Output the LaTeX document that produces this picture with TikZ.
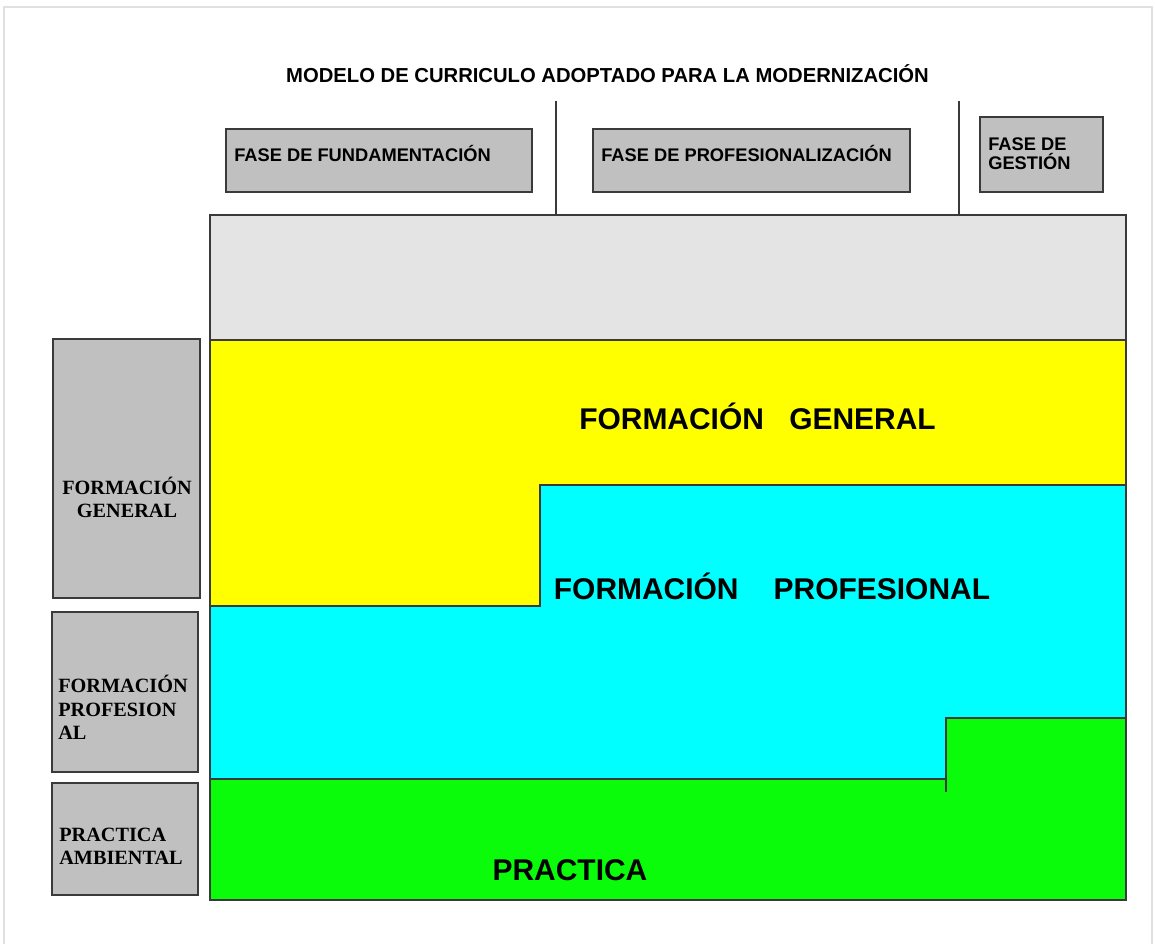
\documentclass[tikz,border=0pt]{standalone}
\usepackage{fontspec}
\setmainfont{Liberation Serif}
\newfontfamily\arialfont{Liberation Sans}
\usepackage{tikz}
\definecolor{amarillo}{RGB}{255,255,0}
\definecolor{celeste}{RGB}{0,255,255}
\definecolor{verde}{RGB}{10,252,10}
\definecolor{fondogris}{RGB}{228,228,228}
\definecolor{cajagris}{RGB}{192,192,192}
\definecolor{borde}{RGB}{58,58,58}
\newlength{\unitx}
\makeatletter
\newcommand\GetUnit{%
  \pgfpointxy{1}{0}
  \global\unitx=\pgf@x\relax
}
\makeatother

\begin{document}
\begin{tikzpicture}
    [
      x=0.025cm,
      y=0.025cm,
      fase/.style={rectangle,draw=borde,line width=1.3pt,fill=cajagris,inner sep=0pt},
      ftxt/.style={inner sep=0pt,font=\arialfont\bfseries\fontsize{13}{14.2}\selectfont,align=left},
      etxt/.style={inner sep=0pt,font=\bfseries\fontsize{14.4}{17}\selectfont},
      zona/.style={draw=borde,line width=1.3pt},
      rot/.style={inner sep=0pt,font=\arialfont\bfseries\fontsize{21.3}{25}\selectfont},
    ]\GetUnit
    \useasboundingbox (0,0) rectangle (1155,944);
    % page edge
    \draw[black!12, line width=2pt] (4,0) -- (4,937) -- (1152,937) -- (1152,0);

    \node at (607.5,861) [ftxt, anchor=base, font=\arialfont\bfseries\fontsize{14.4}{17}\selectfont] (titulo)
      {MODELO DE CURRICULO ADOPTADO PARA LA MODERNIZACIÓN};

    % phases
    \node at (379,783.5)   [fase, minimum width=306\unitx, minimum height=63\unitx] (f1) {};
    \node at (751.5,783.5) [fase, minimum width=317\unitx, minimum height=63\unitx] (f2) {};
    \node at (1041.5,789.5) [fase, minimum width=123\unitx, minimum height=75\unitx] (f3) {};
    \node at (234,782) [ftxt, anchor=base west] (tf1) {FASE DE FUNDAMENTACIÓN};
    \node at (601,782) [ftxt, anchor=base west] (tf2) {FASE DE PROFESIONALIZACIÓN};
    \node at (988,807) [ftxt, anchor=north west] (tf3) {FASE DE\\GESTIÓN};

    % left axis (base = last line)
    \node at (126.5,475.5) [fase, minimum width=147\unitx, minimum height=259\unitx] (e1) {};
    \node at (125,252)     [fase, minimum width=146\unitx, minimum height=160\unitx] (e2) {};
    \node at (125,105)     [fase, minimum width=146\unitx, minimum height=112\unitx] (e3) {};
    \node at (127,426) [etxt, anchor=base, align=center] (te1) {FORMACIÓN\\GENERAL};
    \node at (58,204)  [etxt, anchor=base west, align=left] (te2) {FORMACIÓN\\PROFESION\\AL};
    \node at (59,79)   [etxt, anchor=base west, align=left] (te3) {PRACTICA\\AMBIENTAL};

    % main frame
    \node at (668,386.5) [minimum width=916\unitx, minimum height=685\unitx, inner sep=0pt] (marco) {};
    \filldraw[zona, fill=fondogris] (210,729) rectangle (1126,604);
    \filldraw[zona, fill=amarillo] (210,604) -- (1126,604) -- (1126,459) -- (540,459)
      -- (540,338) -- (210,338) -- cycle;
    \filldraw[zona, fill=celeste] (210,338) -- (540,338) -- (540,459) -- (1126,459)
      -- (1126,226) -- (946,226) -- (946,165) -- (210,165) -- cycle;
    \filldraw[zona, fill=verde] (210,165) -- (946,165) -- (946,226) -- (1126,226)
      -- (1126,44) -- (210,44) -- cycle;
    \draw[zona] (946,165) -- (946,152);

    \coordinate (s1) at (556,843);
    \coordinate (s2) at (959,843);
    \draw[zona, line width=1pt] (s1) -- ([yshift=-1.5\unitx]s1 |- marco.north);
    \draw[zona, line width=1pt] (s2) -- ([yshift=-1.5\unitx]s2 |- marco.north);

    \node at (757.5,514) [rot, anchor=base] (gral) {FORMACIÓN\hspace{18pt}GENERAL};
    \node at (772,344)   [rot, anchor=base] (prof) {FORMACIÓN\hspace{25pt}PROFESIONAL};
    \node at (570,63)    [rot, anchor=base] (prac) {PRACTICA};
  \end{tikzpicture}
\end{document}
